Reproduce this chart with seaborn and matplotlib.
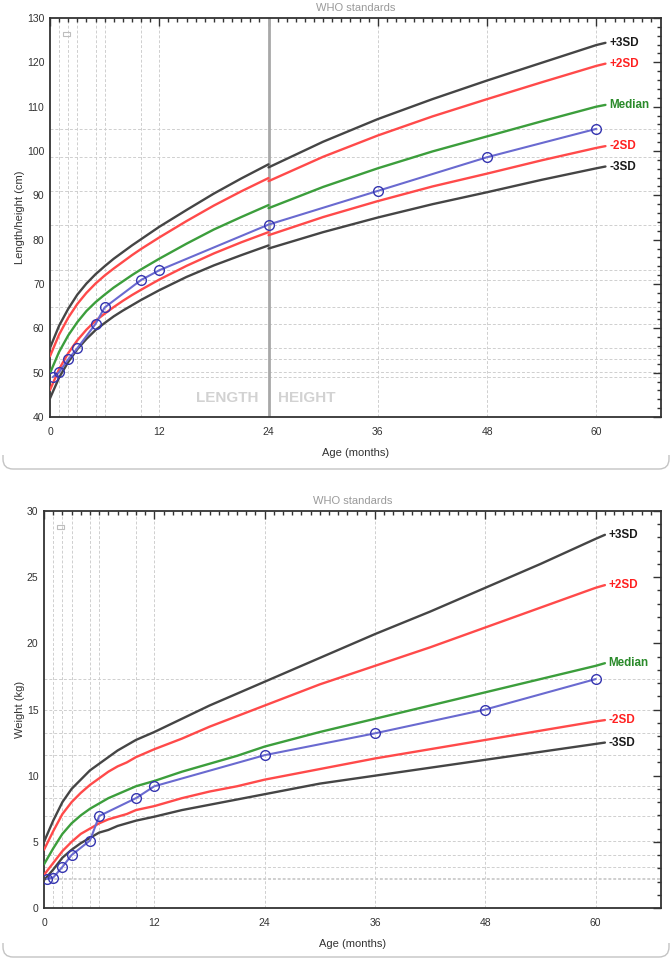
import numpy as np
import pandas as pd
import matplotlib
matplotlib.use("Agg")
import matplotlib.pyplot as plt
import seaborn as sns
from matplotlib.patches import Rectangle, PathPatch
from matplotlib.path import Path

# ---------------- data: length / height for age (boys, WHO) ----------------
len_ages = [0, 1, 2, 3, 4, 5, 6, 7, 8, 9, 10, 12, 15, 18, 21, 24]
len_m3 = [44.2, 48.9, 52.4, 55.3, 57.6, 59.6, 61.2, 62.7, 64.0, 65.2, 66.4, 68.6, 71.6, 74.2, 76.5, 78.7]
len_m2 = [46.1, 50.8, 54.4, 57.3, 59.7, 61.7, 63.3, 64.8, 66.2, 67.5, 68.7, 71.0, 74.1, 76.9, 79.4, 81.7]
len_med = [49.9, 54.7, 58.4, 61.4, 63.9, 65.9, 67.6, 69.2, 70.6, 72.0, 73.3, 75.7, 79.1, 82.3, 85.1, 87.8]
len_p2 = [53.7, 58.6, 62.4, 65.5, 68.0, 70.1, 71.9, 73.5, 75.0, 76.5, 77.9, 80.5, 84.2, 87.7, 90.9, 93.9]
len_p3 = [55.6, 60.6, 64.4, 67.6, 70.1, 72.2, 74.0, 75.7, 77.2, 78.7, 80.1, 82.9, 86.7, 90.4, 93.8, 97.0]

hgt_ages = [24, 30, 36, 42, 48, 54, 60, 61]
hgt_m3 = [78.0, 81.7, 85.0, 88.0, 90.7, 93.5, 96.1, 96.5]
hgt_m2 = [81.0, 85.1, 88.7, 92.0, 94.9, 97.9, 100.7, 101.1]
hgt_med = [87.1, 91.9, 96.1, 99.9, 103.3, 106.7, 110.0, 110.4]
hgt_p2 = [93.2, 98.7, 103.5, 107.8, 111.7, 115.5, 119.2, 119.7]
hgt_p3 = [96.3, 102.1, 107.2, 111.7, 115.9, 119.9, 123.9, 124.4]

# ---------------- data: weight for age (boys, WHO) ----------------
wt_ages = [0, 1, 2, 3, 4, 5, 6, 7, 8, 9, 10, 12, 15, 18, 21, 24, 30, 36, 42, 48, 54, 60, 61]
wt_m3 = [2.1, 2.9, 3.8, 4.4, 4.9, 5.3, 5.7, 5.9, 6.2, 6.4, 6.6, 6.9, 7.4, 7.8, 8.2, 8.6,
         9.4, 10.0, 10.6, 11.2, 11.8, 12.4, 12.5]
wt_m2 = [2.5, 3.4, 4.3, 5.0, 5.6, 6.0, 6.4, 6.7, 6.9, 7.1, 7.4, 7.7, 8.3, 8.8, 9.2, 9.7,
         10.5, 11.3, 12.0, 12.7, 13.4, 14.1, 14.2]
wt_med = [3.3, 4.5, 5.6, 6.4, 7.0, 7.5, 7.9, 8.3, 8.6, 8.9, 9.2, 9.6, 10.3, 10.9, 11.5, 12.2,
          13.3, 14.3, 15.3, 16.3, 17.3, 18.3, 18.5]
wt_p2 = [4.4, 5.8, 7.1, 8.0, 8.7, 9.3, 9.8, 10.3, 10.7, 11.0, 11.4, 12.0, 12.8, 13.7, 14.5, 15.3,
         16.9, 18.3, 19.7, 21.2, 22.7, 24.2, 24.4]
wt_p3 = [5.0, 6.6, 8.0, 9.0, 9.7, 10.4, 10.9, 11.4, 11.9, 12.3, 12.7, 13.3, 14.3, 15.3, 16.2, 17.1,
         18.9, 20.7, 22.4, 24.2, 26.0, 27.9, 28.2]

# ---------------- data: patient ----------------
pt_len_ages = [0.3, 1, 2, 3, 5, 6, 10, 12, 24, 36, 48, 60]
pt_len = [49.0, 50.1, 53.0, 55.5, 61.0, 64.7, 70.9, 73.1, 83.4, 91.0, 98.6, 105.0]
pt_wt_ages = [0.3, 1, 2, 3, 5, 6, 10, 12, 24, 36, 48, 60]
pt_wt = [2.2, 2.3, 3.1, 4.0, 5.1, 6.95, 8.3, 9.2, 11.55, 13.2, 15.0, 17.3]

grid_ages = [1, 2, 3, 5, 6, 10, 12, 24, 36, 48, 60]
x_ticks = [0, 12, 24, 36, 48, 60]
sd_labels = ["+3SD", "+2SD", "Median", "-2SD", "-3SD"]

# ---------------- style ----------------
sns.set_theme(style="white")
plt.rcParams["font.family"] = ["Liberation Sans", "DejaVu Sans"]

C_DARK = "#454545"
C_RED = "#ff4a4a"
C_GREEN = "#3c9e3c"
C_BLUE = "#6a6ad0"
C_MARK = "#3535b0"
LBL_COLORS = ["#1a1a1a", "#ff2020", "#2a8a2a", "#ff2020", "#1a1a1a"]
LINE_COLORS = [C_DARK, C_RED, C_GREEN, C_RED, C_DARK]

W, H = 672, 961
fig = plt.figure(figsize=(W / 100, H / 100), dpi=100)


def ax_rect(l, r, t, b):
    return [l / W, 1 - b / H, (r - l) / W, (b - t) / H]


ax1 = fig.add_axes(ax_rect(50, 661, 18, 417))
ax2 = fig.add_axes(ax_rect(44, 661, 511, 908))


def style_axes(ax, ylim, ymaj, ymin_step, ylabel, hvals, solid24, ylab_x):
    ax.set_xlim(0, 67.1)
    ax.set_ylim(*ylim)
    ax.set_xticks(x_ticks)
    ax.set_xticks(np.arange(0, 67, 1), minor=True)
    ax.set_yticks(np.arange(ylim[0], ylim[1] + 0.01, ymaj))
    ax.set_yticks(np.arange(ylim[0], ylim[1] + 0.01, ymin_step), minor=True)
    ax.tick_params(which="both", direction="in", top=True, right=True,
                   color="#333333", width=1.0, labelsize=7.5, labelcolor="#333333")
    ax.tick_params(which="major", length=6, pad=7)
    ax.tick_params(which="minor", length=3)
    ax.tick_params(axis="y", which="major", pad=4)
    for s in ax.spines.values():
        s.set_color("#333333")
        s.set_linewidth(1.3)
    ax.set_xlabel("Age (months)", fontsize=8, color="#333333", labelpad=8)
    ax.set_ylabel(ylabel, fontsize=8, color="#333333")
    ax.yaxis.set_label_coords(ylab_x, 0.5)
    ax.set_title("WHO standards", fontsize=8, color="#9a9a9a", pad=5)
    for a in grid_ages:
        if a == 24 and solid24:
            continue
        ax.axvline(a, color="#cfcfcf", lw=0.7, ls=(0, (3, 2)), zorder=0)
    for v in hvals:
        ax.axhline(v, color="#cfcfcf", lw=0.7, ls=(0, (3, 2)), zorder=0)
    ax.add_patch(Rectangle((0.021, 0.955), 0.011, 0.01, transform=ax.transAxes,
                           fill=False, edgecolor="#bdbdbd", lw=0.8))


def draw_curve(ax, x, y, color):
    sns.lineplot(x=x, y=y, ax=ax, color=color, lw=1.7, estimator=None, sort=False,
                 zorder=3, solid_joinstyle="round")


# ---------------- top chart ----------------
style_axes(ax1, (40, 130), 10, 2, "Length/height (cm)", pt_len, True, (25 - 50) / 611)
ax1.axvline(24, color="#a8a8a8", lw=2.0, zorder=2)
len_sets = [len_p3, len_p2, len_med, len_m2, len_m3]
hgt_sets = [hgt_p3, hgt_p2, hgt_med, hgt_m2, hgt_m3]
for ys, col in zip(len_sets, LINE_COLORS):
    draw_curve(ax1, len_ages, ys, col)
for ys, col in zip(hgt_sets, LINE_COLORS):
    draw_curve(ax1, hgt_ages, ys, col)
sns.lineplot(x=pt_len_ages, y=pt_len, ax=ax1, color=C_BLUE, lw=1.5, estimator=None,
             sort=False, marker="o", markersize=7, markerfacecolor="none",
             markeredgecolor=C_MARK, markeredgewidth=1.0, zorder=4)
for lab, ys, c in zip(sd_labels, hgt_sets, LBL_COLORS):
    ax1.text(61.4, ys[-1], lab, color=c, fontsize=8.4, fontweight="bold",
             ha="left", va="center")
ax1.text(22.9, 44.3, "LENGTH", color="#d2d2d2", fontsize=11, fontweight="bold",
         ha="right", va="center")
ax1.text(25.0, 44.3, "HEIGHT", color="#d2d2d2", fontsize=11, fontweight="bold",
         ha="left", va="center")

# ---------------- bottom chart ----------------
style_axes(ax2, (0, 30), 5, 1, "Weight (kg)", pt_wt, False, (25 - 44) / 617)
wt_sets = [wt_p3, wt_p2, wt_med, wt_m2, wt_m3]
for ys, col in zip(wt_sets, LINE_COLORS):
    draw_curve(ax2, wt_ages, ys, col)
sns.lineplot(x=pt_wt_ages, y=pt_wt, ax=ax2, color=C_BLUE, lw=1.5, estimator=None,
             sort=False, marker="o", markersize=7, markerfacecolor="none",
             markeredgecolor=C_MARK, markeredgewidth=1.0, zorder=4)
for lab, ys, c in zip(sd_labels, wt_sets, LBL_COLORS):
    ax2.text(61.4, ys[-1], lab, color=c, fontsize=8.4, fontweight="bold",
             ha="left", va="center")


# ---------------- panel frames (rounded bottom edges) ----------------
def panel_bottom(ybot, side_h=14, x0=3, x1=669, r=10):
    def P(x, y):
        return (x / W, 1 - y / H)
    verts = [P(x0, ybot - side_h), P(x0, ybot - r), P(x0, ybot), P(x0 + r, ybot),
             P(x1 - r, ybot), P(x1, ybot), P(x1, ybot - r), P(x1, ybot - side_h)]
    codes = [Path.MOVETO, Path.LINETO, Path.CURVE3, Path.CURVE3,
             Path.LINETO, Path.CURVE3, Path.CURVE3, Path.LINETO]
    fig.patches.append(PathPatch(Path(verts, codes), transform=fig.transFigure,
                                 fill=False, edgecolor="#c4c4c4", lw=1.0))


panel_bottom(469)
panel_bottom(957)

fig.savefig("out.png", dpi=100)
